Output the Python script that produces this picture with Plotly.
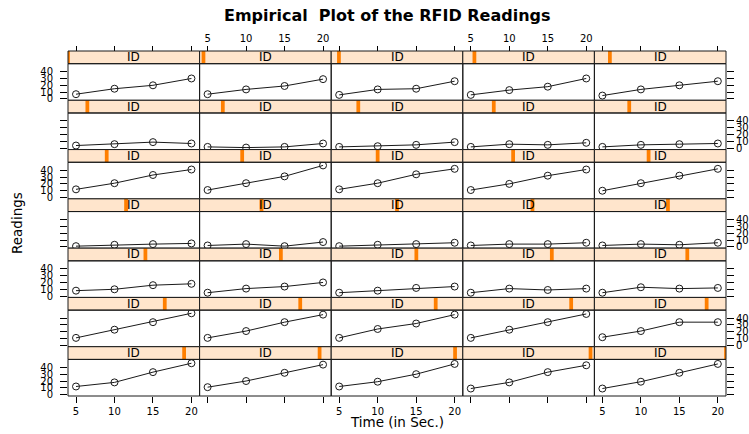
import plotly.graph_objects as go

# ---- data ----
time_sec = [5, 10, 15, 20]
x_ticks = [5, 10, 15, 20]
y_ticks = [0, 10, 20, 30, 40]
strip_label = "ID"
n_levels = 35

row1 = [[7, 15, 20, 30], [7, 14, 19, 29], [6, 14, 15, 26], [6, 13, 18, 30], [5, 14, 20, 26]]
row2 = [[4, 6, 9, 7], [2, 1, 2, 7], [2, 3, 5, 9], [2, 6, 5, 8], [2, 5, 6, 7]]
row3 = [[12, 21, 33, 41], [11, 21, 31, 47], [12, 21, 34, 42], [11, 20, 32, 41], [10, 21, 32, 42]]
row4 = [[1, 3, 4, 5], [2, 4, 1, 7], [1, 3, 4, 6], [2, 4, 4, 6], [2, 4, 3, 6]]
row5 = [[8, 10, 16, 18], [5, 11, 14, 20], [5, 8, 12, 14], [5, 11, 9, 11], [5, 13, 11, 12]]
row6 = [[11, 23, 34, 47], [11, 21, 34, 45], [11, 24, 32, 45], [11, 23, 34, 46], [12, 21, 34, 34]]
row7 = [[12, 18, 33, 46], [11, 20, 32, 44], [12, 19, 30, 45], [9, 18, 33, 43], [9, 19, 32, 45]]
rows = [row1, row2, row3, row4, row5, row6, row7]

# ---- geometry ----
W, H = 749, 434
left, right = 68, 726
top, bottom = 51, 396
ncol, nrow = 5, 7
colw = (right - left) / ncol
rowh = (bottom - top) / nrow
strip_h = 12.7
panel_h = rowh - strip_h
x_range = [3.96, 21.06]
y_range = [-1.9, 51.6]

FONT = "DejaVu Sans"
INK = "#1a1a1a"
tickfont = dict(family=FONT, size=10, color="black")

fig = go.Figure()
layout_axes = {}
shapes = []
annotations = []

for r in range(nrow):
    for c in range(ncol):
        k = r * ncol + c
        n = k + 1
        xa = "x" if n == 1 else f"x{n}"
        ya = "y" if n == 1 else f"y{n}"
        fig.add_trace(go.Scatter(
            x=time_sec, y=rows[r][c], xaxis=xa, yaxis=ya,
            mode="lines+markers",
            line=dict(color=INK, width=1),
            marker=dict(symbol="circle-open", size=7, color=INK, line=dict(width=1)),
            showlegend=False, hoverinfo="x+y"))
        x0 = left + c * colw
        x1 = x0 + colw
        st = top + r * rowh
        pt = st + strip_h
        pb = st + rowh
        xaxis = dict(domain=[x0 / W, x1 / W], range=x_range, tickvals=x_ticks,
                     showgrid=False, zeroline=False, showline=False, anchor=ya,
                     ticks="", showticklabels=False, automargin=False,
                     tickcolor="black", tickwidth=1, tickfont=tickfont, fixedrange=True)
        if r == 0:
            xaxis.update(side="top", anchor="free", position=1 - top / H,
                         ticks="outside", ticklen=5, showticklabels=(c % 2 == 1))
        elif r == nrow - 1:
            xaxis.update(side="bottom", ticks="outside", ticklen=6,
                         showticklabels=(c % 2 == 0))
        yaxis = dict(domain=[1 - pb / H, 1 - pt / H], range=y_range, tickvals=y_ticks,
                     showgrid=False, zeroline=False, showline=False, anchor=xa,
                     ticks="", showticklabels=False, automargin=False,
                     tickcolor="black", tickwidth=1, tickfont=tickfont, fixedrange=True)
        if c == 0:
            yaxis.update(side="left", ticks="outside", ticklen=7,
                         showticklabels=(r % 2 == 0), ticklabelstandoff=5)
        elif c == ncol - 1:
            yaxis.update(side="right", ticks="outside", ticklen=7,
                         showticklabels=(r % 2 == 1))
        layout_axes["xaxis" if n == 1 else f"xaxis{n}"] = xaxis
        layout_axes["yaxis" if n == 1 else f"yaxis{n}"] = yaxis

        xr = f"{xa} domain"
        yr = f"{ya} domain"
        s_top = 1 + strip_h / panel_h
        # strip background
        shapes.append(dict(type="rect", xref=xr, yref=yr, x0=0, x1=1, y0=1, y1=s_top,
                           fillcolor="#ffe5cc", line=dict(width=0), layer="above"))
        # level indicator
        center = k / (n_levels - 1)
        half = 0.5 / n_levels
        shapes.append(dict(type="rect", xref=xr, yref=yr,
                           x0=max(0, center - half), x1=min(1, center + half),
                           y0=1, y1=s_top, fillcolor="#ff7f00", line=dict(width=0),
                           layer="above"))
        # strip border
        shapes.append(dict(type="rect", xref=xr, yref=yr, x0=0, x1=1, y0=1, y1=s_top,
                           line=dict(color=INK, width=1), layer="above"))
        # panel border
        shapes.append(dict(type="rect", xref=xr, yref=yr, x0=0, x1=1, y0=0, y1=1,
                           line=dict(color=INK, width=1), layer="above"))
        annotations.append(dict(text=strip_label, xref=xr, yref=yr, x=0.5,
                                y=1 + strip_h / 2 / panel_h, showarrow=False,
                                xanchor="center", yanchor="middle",
                                font=dict(family=FONT, size=12, color="black")))

annotations.append(dict(text="<b>Empirical\u00a0 Plot of the RFID Readings</b>",
                        xref="paper", yref="paper", x=387 / W, y=1 - 16 / H,
                        xanchor="center", yanchor="middle", showarrow=False,
                        font=dict(family=FONT, size=16, color="black")))
annotations.append(dict(text="Time (in Sec.)", xref="paper", yref="paper",
                        x=397 / W, y=1 - 422 / H, xanchor="center", yanchor="middle",
                        showarrow=False, font=dict(family=FONT, size=13.5, color="black")))
annotations.append(dict(text="Readings", xref="paper", yref="paper",
                        x=17 / W, y=1 - 223 / H, xanchor="center", yanchor="middle",
                        textangle=-90, showarrow=False,
                        font=dict(family=FONT, size=13.5, color="black")))

fig.update_layout(
    template="none",
    width=W, height=H,
    margin=dict(l=0, r=0, t=0, b=0, pad=0),
    paper_bgcolor="white", plot_bgcolor="white",
    showlegend=False,
    shapes=shapes,
    annotations=annotations,
    **layout_axes,
)

fig.write_html(
    "out.html",
    config={"displayModeBar": False},
    post_script="document.body.style.margin='0';document.body.style.overflow='hidden';",
)
